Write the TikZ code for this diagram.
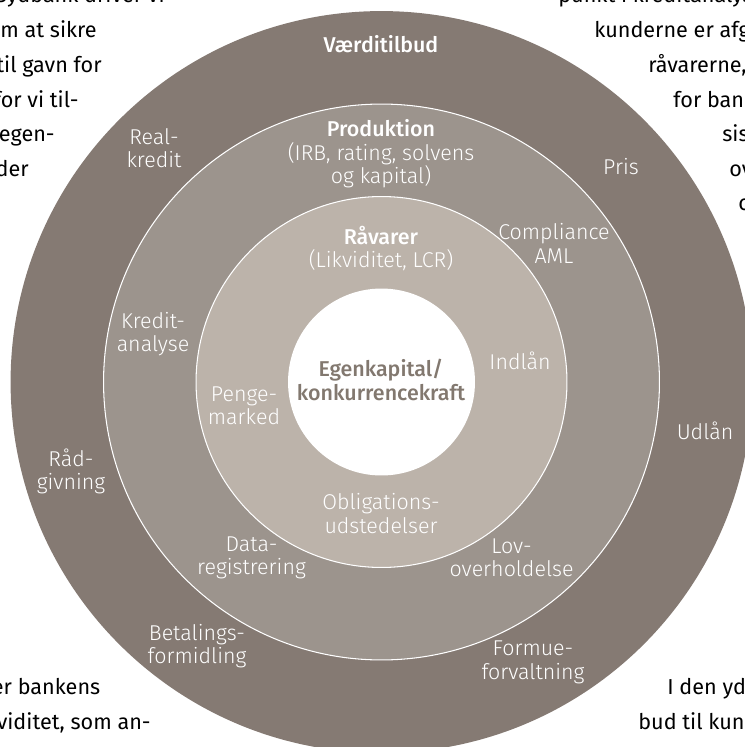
\documentclass[tikz,border=0pt]{standalone}
\usepackage{fontspec}
\setmainfont{Fira Sans Light}[BoldFont={Fira Sans Medium}]
\newfontfamily\brodtekst{Fira Sans}
\definecolor{ydre}{HTML}{857A73}
\definecolor{midt}{HTML}{9C948D}
\definecolor{indre}{HTML}{BCB3AA}
\definecolor{kerne}{HTML}{82786F}
\newcommand*{\etiket}{\fontsize{12.2}{13.3}\selectfont}
\tikzset{
  felt/.style={text=white, align=center, inner sep=0pt, font=\etiket},
  titel/.style={felt, font=\etiket\bfseries},
  brod/.style={text=black, inner sep=0pt, font=\brodtekst\fontsize{12.3}{13}\selectfont},
  skel/.style={draw=white, line width=0.6pt}
}

\begin{document}
\begin{tikzpicture}[x=0.02cm, y=-0.02cm]
  \useasboundingbox (0,0) rectangle (744,747);
  \coordinate (m) at (381.5,382);
  % ringene
  \fill[ydre]        (m) circle[radius=7.42cm];
  \fill[midt,skel]   (m) circle[radius=5.56cm];
  \fill[indre,skel]  (m) circle[radius=3.71cm];
  \fill[white]       (m) circle[radius=1.87cm];
  % ydre ring
  \node[titel] (vaerdi)   at (381,44)    {Værditilbud};
  \node[felt]  (real)     at (154,148)   {Real-\\kredit};
  \node[felt]  (pris)     at (621,167)   {Pris};
  \node[felt]  (udlaan)   at (705,431)   {Udlån};
  \node[felt]  (raad)     at (71,471.5)  {Råd-\\givning};
  \node[felt]  (betaling) at (197,646)   {Betalings-\\formidling};
  \node[felt]  (formue)   at (533,662.5) {Formue-\\forvaltning};
  % midterste ring
  \node[titel] (produktion) at (381,128)   {Produktion};
  \node[felt]  (irb)        at (381,165)   {(IRB, rating, solvens\\og kapital)};
  \node[felt]  (compliance) at (554,243.5) {Compliance\\AML};
  \node[felt]  (kredit)     at (153,334)   {Kredit-\\analyse};
  \node[felt]  (data)       at (251.5,558) {Data-\\registrering};
  \node[felt]  (lov)        at (511.5,558) {Lov-\\overholdelse};
  % inderste ring
  \node[titel] (raavarer)   at (381,236)   {Råvarer};
  \node[felt]  (lcr)        at (381,260)   {(Likviditet, LCR)};
  \node[felt]  (indlaan)    at (520,361)   {Indlån};
  \node[felt]  (penge)      at (244,406)   {Penge-\\marked};
  \node[felt]  (obligation) at (381,513.5) {Obligations-\\udstedelser};
  % kernen
  \node[titel,text=kerne] (egenkapital) at (381,380) {Egenkapital/\\konkurrencekraft};
  % brødtekst omkring figuren
  \foreach \tekst/\x/\y [count=\i] in {Sydbank driver vi/165/2.6, om at sikre/97/37.3,
      til gavn for/102/72, for vi til-/79/107, egen-/55/141.7, der/29/176,
      er bankens/100.6/694, {viditet, som an-}/151/729.5}
    \node[brod, anchor=base east] (venstre\i) at (\x,\y) {\tekst};
  \foreach \tekst/\x/\y [count=\i] in {punkt i kreditanalys/558/2.6, kunderne er afg/594/37.3,
      {råvarerne,}/648/72, for bank/673/107, sis/722/141.7, ov/729/176, c/738/210.7,
      I den yd/667/694, bud til kund/638/729.5}
    \node[brod, anchor=base west] (hoejre\i) at (\x,\y) {\tekst};
\end{tikzpicture}
\end{document}
